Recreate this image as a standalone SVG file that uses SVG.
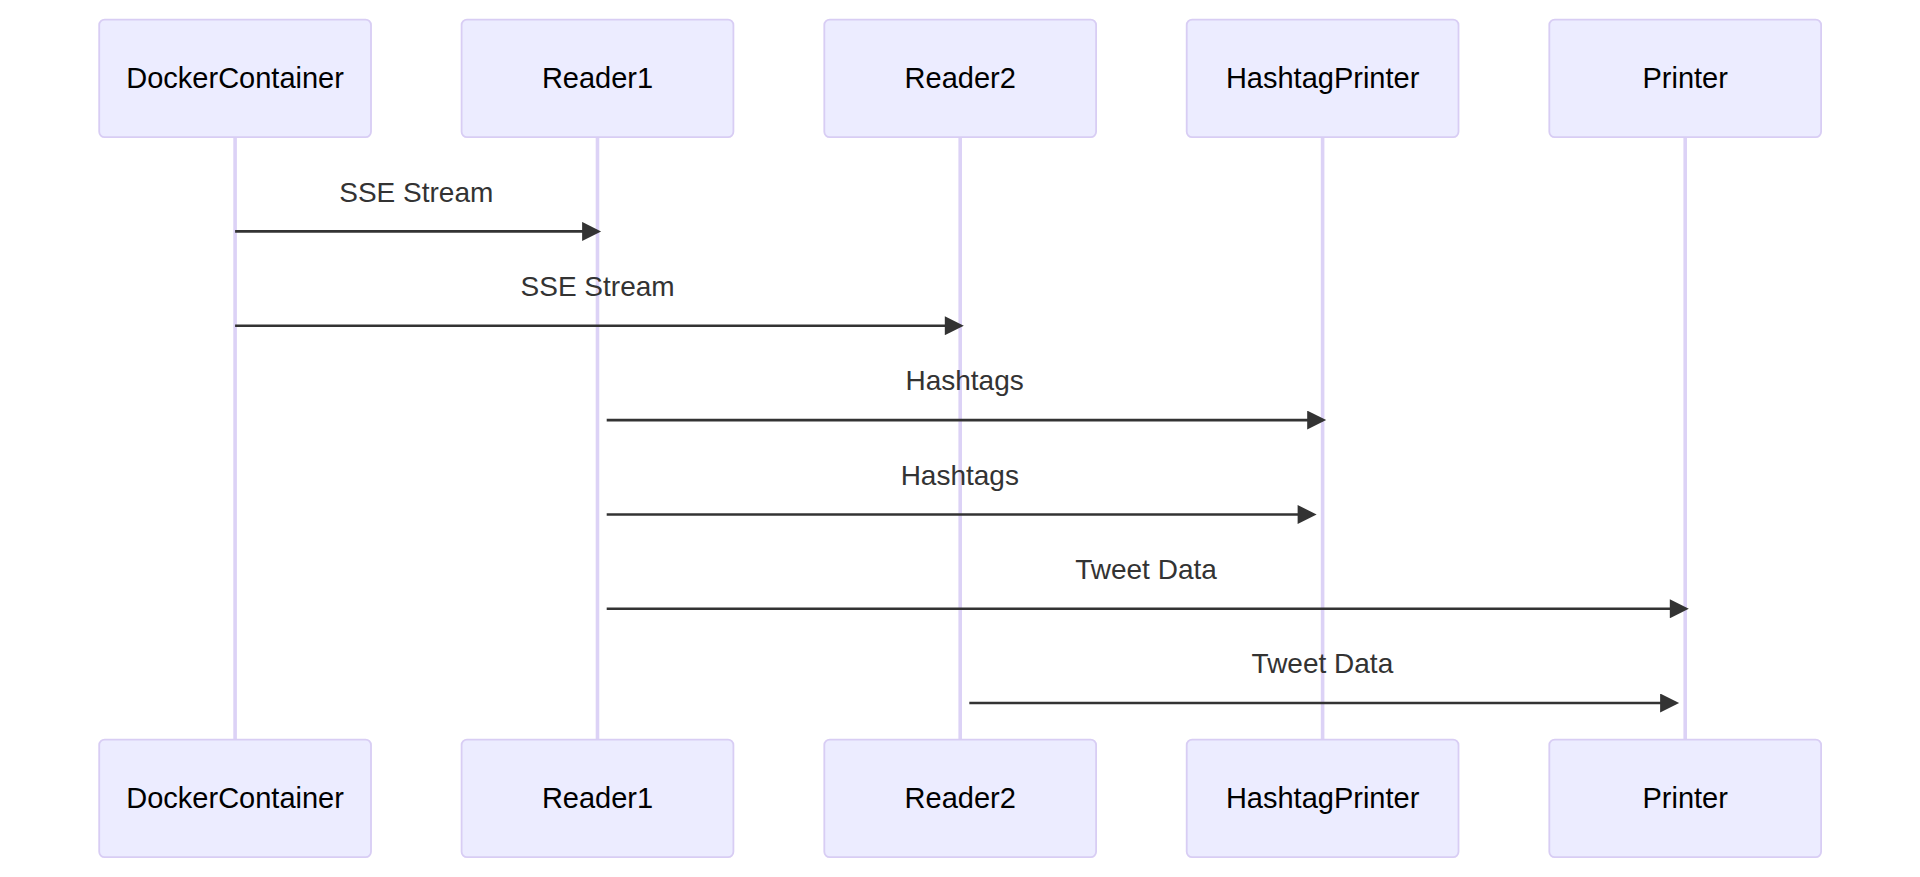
<svg xmlns="http://www.w3.org/2000/svg" width="1920" height="877" viewBox="0 0 1920 877">
<style>
.actor{fill:#ECECFF;stroke:#d8cdf4;stroke-width:1.8}
.actor-text{font-family:"Liberation Sans",Arial,sans-serif;font-size:29px;fill:#000;text-anchor:middle;dominant-baseline:central}
.lifeline{stroke:#dcd2f6;stroke-width:3.6}
.msg{stroke:#333;stroke-width:2.6;fill:none;marker-end:url(#arrowhead)}
.msg-text{font-family:"Liberation Sans",Arial,sans-serif;font-size:28px;fill:#333;text-anchor:middle}
</style>
<defs>
<marker id="arrowhead" viewBox="0 0 10 10" refX="8.1" refY="5" markerUnits="userSpaceOnUse" markerWidth="20" markerHeight="19" orient="auto">
<path d="M0,0 L10,5 L0,10 z" fill="#333"/>
</marker>
</defs>
<rect width="1920" height="877" fill="#fff"/>
<g id="lifelines">
<line class="lifeline" x1="235.1" y1="137" x2="235.1" y2="740"/>
<line class="lifeline" x1="597.5" y1="137" x2="597.5" y2="740"/>
<line class="lifeline" x1="960.2" y1="137" x2="960.2" y2="740"/>
<line class="lifeline" x1="1322.6" y1="137" x2="1322.6" y2="740"/>
<line class="lifeline" x1="1685.2" y1="137" x2="1685.2" y2="740"/>
</g>
<g id="DockerContainer">
<rect class="actor" x="99.2" y="19.6" width="271.8" height="117.6" rx="5.4"/>
<text class="actor-text" x="235.1" y="78.4">DockerContainer</text>
<rect class="actor" x="99.2" y="739.6" width="271.8" height="117.6" rx="5.4"/>
<text class="actor-text" x="235.1" y="798.4">DockerContainer</text>
</g>
<g id="Reader1">
<rect class="actor" x="461.6" y="19.6" width="271.8" height="117.6" rx="5.4"/>
<text class="actor-text" x="597.5" y="78.4">Reader1</text>
<rect class="actor" x="461.6" y="739.6" width="271.8" height="117.6" rx="5.4"/>
<text class="actor-text" x="597.5" y="798.4">Reader1</text>
</g>
<g id="Reader2">
<rect class="actor" x="824.3" y="19.6" width="271.8" height="117.6" rx="5.4"/>
<text class="actor-text" x="960.2" y="78.4">Reader2</text>
<rect class="actor" x="824.3" y="739.6" width="271.8" height="117.6" rx="5.4"/>
<text class="actor-text" x="960.2" y="798.4">Reader2</text>
</g>
<g id="HashtagPrinter">
<rect class="actor" x="1186.7" y="19.6" width="271.8" height="117.6" rx="5.4"/>
<text class="actor-text" x="1322.6" y="78.4">HashtagPrinter</text>
<rect class="actor" x="1186.7" y="739.6" width="271.8" height="117.6" rx="5.4"/>
<text class="actor-text" x="1322.6" y="798.4">HashtagPrinter</text>
</g>
<g id="Printer">
<rect class="actor" x="1549.3" y="19.6" width="271.8" height="117.6" rx="5.4"/>
<text class="actor-text" x="1685.2" y="78.4">Printer</text>
<rect class="actor" x="1549.3" y="739.6" width="271.8" height="117.6" rx="5.4"/>
<text class="actor-text" x="1685.2" y="798.4">Printer</text>
</g>
<g id="connectors">
<line class="msg" x1="235.1" y1="231.4" x2="597.5" y2="231.4"/>
<text class="msg-text" x="416.3" y="201.5">SSE Stream</text>
<line class="msg" x1="235.1" y1="325.7" x2="960.2" y2="325.7"/>
<text class="msg-text" x="597.6" y="295.8">SSE Stream</text>
<line class="msg" x1="606.7" y1="420.1" x2="1322.6" y2="420.1"/>
<text class="msg-text" x="964.6" y="390.2">Hashtags</text>
<line class="msg" x1="606.7" y1="514.5" x2="1313" y2="514.5"/>
<text class="msg-text" x="959.8" y="484.6">Hashtags</text>
<line class="msg" x1="606.7" y1="608.8" x2="1685.2" y2="608.8"/>
<text class="msg-text" x="1146" y="578.9">Tweet Data</text>
<line class="msg" x1="969.3" y1="703" x2="1675.5" y2="703"/>
<text class="msg-text" x="1322.4" y="673.1">Tweet Data</text>
</g>
</svg>
